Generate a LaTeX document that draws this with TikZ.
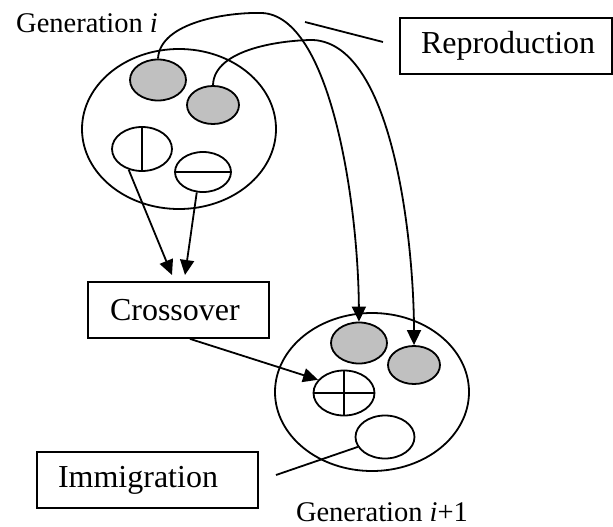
\documentclass[tikz,border=0pt]{standalone}
\usepackage{fontspec}
\setmainfont{Liberation Serif}
\usetikzlibrary{shapes.geometric,arrows.meta,calc}
\definecolor{silvergray}{HTML}{C0C0C0}
\begin{document}
\begin{tikzpicture}[x=1pt,y=-1pt,line width=1.8pt,
  pop/.style={draw,ellipse,inner sep=0pt},
  ind/.style={draw,ellipse,inner sep=0pt},
  kept/.style={ind,fill=silvergray},
  opbox/.style={draw,rectangle,minimum height=56pt,inner ysep=0pt,inner xsep=21pt,align=left,font=\fontsize{32}{38}\selectfont},
  genlabel/.style={font=\fontsize{28.5}{34}\selectfont,inner sep=0pt},
  arr/.style={-{Triangle[length=15pt,width=14pt]}}]
\useasboundingbox (0,0) rectangle (613,527);
% populations
\node[pop,minimum width=194pt,minimum height=160pt] (P1) at (179,129) {};
\node[pop,minimum width=194pt,minimum height=158pt] (P2) at (372,392) {};
% generation i individuals
\node[kept,minimum width=56pt,minimum height=41pt] (g1) at (158,80) {};
\node[kept,minimum width=52pt,minimum height=38pt] (g2) at (213,105) {};
\node[ind,minimum width=60pt,minimum height=44pt] (v) at (142,149) {};
\node[ind,minimum width=56pt,minimum height=40pt] (h) at (203,172) {};
\draw (v.north) -- (v.south);
\draw (h.west) -- (h.east);
% generation i+1 individuals
\node[kept,minimum width=56pt,minimum height=41pt] (g3) at (359,343) {};
\node[kept,minimum width=52pt,minimum height=38pt] (g4) at (414,365) {};
\node[ind,minimum width=61pt,minimum height=45pt] (x) at (344,393) {};
\node[ind,minimum width=59pt,minimum height=43pt] (w) at (385,437) {};
\draw (x.north) -- (x.south);
\draw (x.west) -- (x.east);
% boxes
\node[opbox,text width=137pt,minimum width=181pt] (cross) at (178.5,310) {Crossover};
\node[opbox,text width=179pt,minimum width=221pt] (imm) at (147.5,480) {Immigration};
\node[opbox,text width=170pt,minimum width=211pt] (rep) at (506,46) {Reproduction};
% labels
\node[genlabel] (L1) at (87,23) {Generation \textit{i}};
\node[genlabel] (L2) at (382,512) {Generation \textit{i}+1};
% free ends
\coordinate (c1) at (172,275);
\coordinate (c2) at (185,275);
\coordinate (r1) at (305,22);
\coordinate (r2) at (383,42);
\coordinate (i1) at (276,475);
% crossover arrows
\draw[arr] (v.237) -- (c1);
\draw[arr] (h.253) -- (c2);
\draw[arr] ([xshift=11.5pt]cross.south) -- (x.153);
% reproduction arrows
\draw[arr] (g1.north) .. controls (160,22) and (228,12) .. (262,13)
  .. controls (330,16) and (358,200) .. (g3.north);
\draw[arr] (g2.north) .. controls (214,48) and (285,40) .. (313,40)
  .. controls (395,44) and (414,250) .. (g4.north);
\draw (r1) -- (r2);
\draw (w.200) -- (i1);
\end{tikzpicture}
\end{document}
